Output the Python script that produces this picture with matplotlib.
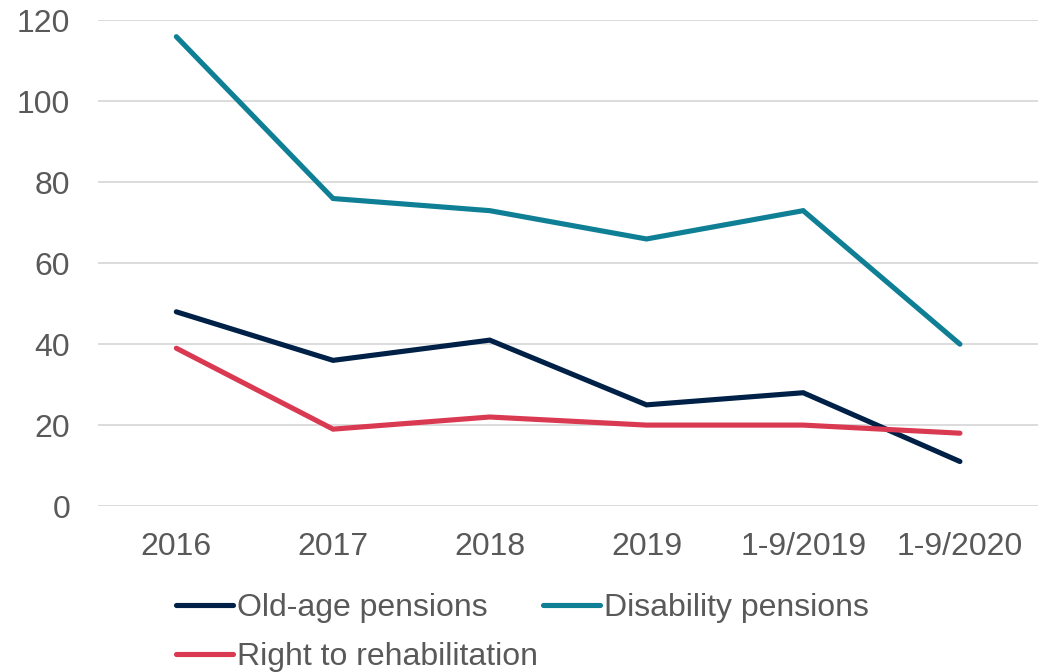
import matplotlib
matplotlib.use("Agg")
import matplotlib.pyplot as plt

categories = ["2016", "2017", "2018", "2019", "1-9/2019", "1-9/2020"]
old_age = [48, 36, 41, 25, 28, 11]
disability = [116, 76, 73, 66, 73, 40]
rehab = [39, 19, 22, 20, 20, 18]
yticks = [0, 20, 40, 60, 80, 100, 120]

plt.rcParams['font.family'] = ['Liberation Sans', 'DejaVu Sans']

fig = plt.figure(figsize=(10.39, 6.72), dpi=100)
ax = fig.add_axes([0.0943, 0.247, 0.905, 0.7225])

x = list(range(len(categories)))
lw = 3.7
l1, = ax.plot(x, old_age, color="#002147", lw=lw, solid_capstyle="round", solid_joinstyle="miter", label="Old-age pensions")
l2, = ax.plot(x, disability, color="#0E7F94", lw=lw, solid_capstyle="round", solid_joinstyle="miter", label="Disability pensions")
l3, = ax.plot(x, rehab, color="#D93A52", lw=lw, solid_capstyle="round", solid_joinstyle="miter", label="Right to rehabilitation")

ax.set_xlim(-0.5, len(categories) - 0.5)
ax.set_ylim(0, 120)
ax.set_yticks(yticks)
ax.set_xticks(x)
ax.set_xticklabels(categories)
ax.tick_params(axis='both', length=0, labelsize=23, colors="#595959")
ax.tick_params(axis='x', pad=19)
ax.tick_params(axis='y', pad=20)
ax.grid(axis='y', color="#D9D9D9", lw=1.3)
ax.set_axisbelow(True)
for s in ax.spines.values():
    s.set_visible(False)

leg = fig.legend([l1, l3, l2], [l1.get_label(), l3.get_label(), l2.get_label()],
                 ncol=2, loc="upper left", bbox_to_anchor=(0.169, 0.118), frameon=False,
                 fontsize=23, handlelength=1.8, handletextpad=0.12, columnspacing=0.15,
                 labelspacing=0.6, borderpad=0, borderaxespad=0)
for t in leg.get_texts():
    t.set_color("#595959")

fig.savefig("out.png", dpi=100)
